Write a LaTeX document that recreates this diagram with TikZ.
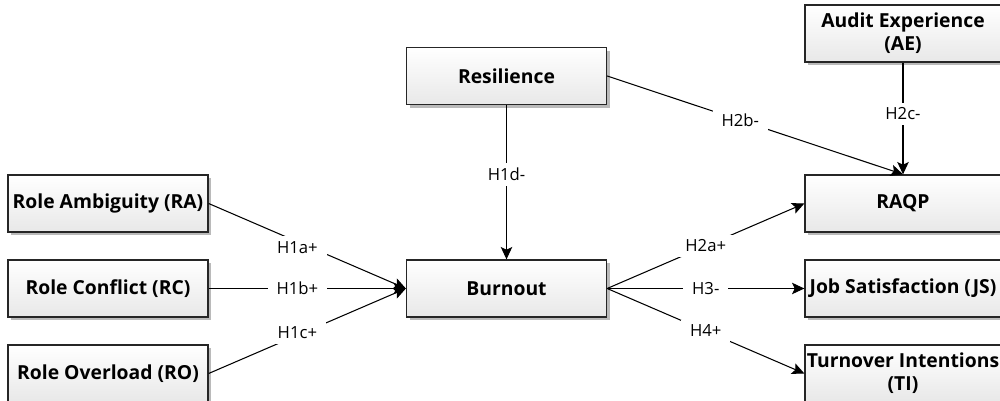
\documentclass[tikz,border=0pt]{standalone}
\usepackage{fontspec}
\setmainfont{Open Sans}
\setsansfont{Open Sans}
\usetikzlibrary{arrows.meta,shadows}
\begin{document}
\begin{tikzpicture}[x=0.02cm,y=-0.02cm,
  box/.style={draw=black!85, line width=0.75pt, top color=white, bottom color=black!9,
    drop shadow={shadow xshift=0.065cm, shadow yshift=-0.065cm, fill=black!45, opacity=0.6},
    minimum width=4cm, minimum height=1.14cm, inner sep=0pt, align=center,
    font=\bfseries\fontsize{11}{13}\selectfont},
  rbox/.style={box, minimum width=3.92cm},
  lab/.style={fill=white, font=\fontsize{9.5}{11}\selectfont, inner xsep=5pt, inner ysep=3pt},
  arr/.style={-{Stealth[length=7pt,width=6.5pt,inset=1.5pt]}, line width=0.6pt, black}]
\useasboundingbox (0,0) rectangle (1000,401);
\node[box] (res) at (506.5,76) {Resilience};
\node[rbox] (ae) at (903,33.5) {Audit Experience\\(AE)};
\node[box] (ra) at (108,203.5) {Role Ambiguity (RA)};
\node[box] (rc) at (108,288.5) {Role Conflict (RC)};
\node[box] (ro) at (108,373.5) {Role Overload (RO)};
\node[box] (bo) at (506.5,288.5) {Burnout};
\node[rbox] (raqp) at (903,203.5) {RAQP};
\node[rbox] (js) at (903,288.5) {Job Satisfaction (JS)};
\node[rbox] (ti) at (903,373.5) {Turnover Intentions\\(TI)};
\draw[arr] (ra.east) -- node[lab,pos=0.45,yshift=-0.12cm]{H1a+} (bo.west);
\draw[arr] (rc.east) -- node[lab,pos=0.45]{H1b+} (bo.west);
\draw[arr] (ro.east) -- node[lab,pos=0.45,yshift=0.05cm]{H1c+} (bo.west);
\draw[arr] (res.south) -- node[lab,pos=0.45]{H1d-} (bo.north);
\draw[arr] (res.east) -- node[lab,pos=0.45]{H2b-} (raqp.north);
\draw[arr] (ae.south) -- node[lab,pos=0.46]{H2c-} (raqp.north);
\draw[arr] (bo.east) -- node[lab,pos=0.5]{H2a+} (raqp.west);
\draw[arr] (bo.east) -- node[lab,pos=0.5]{H3-} (js.west);
\draw[arr] (bo.east) -- node[lab,pos=0.5]{H4+} (ti.west);
\end{tikzpicture}
\end{document}
